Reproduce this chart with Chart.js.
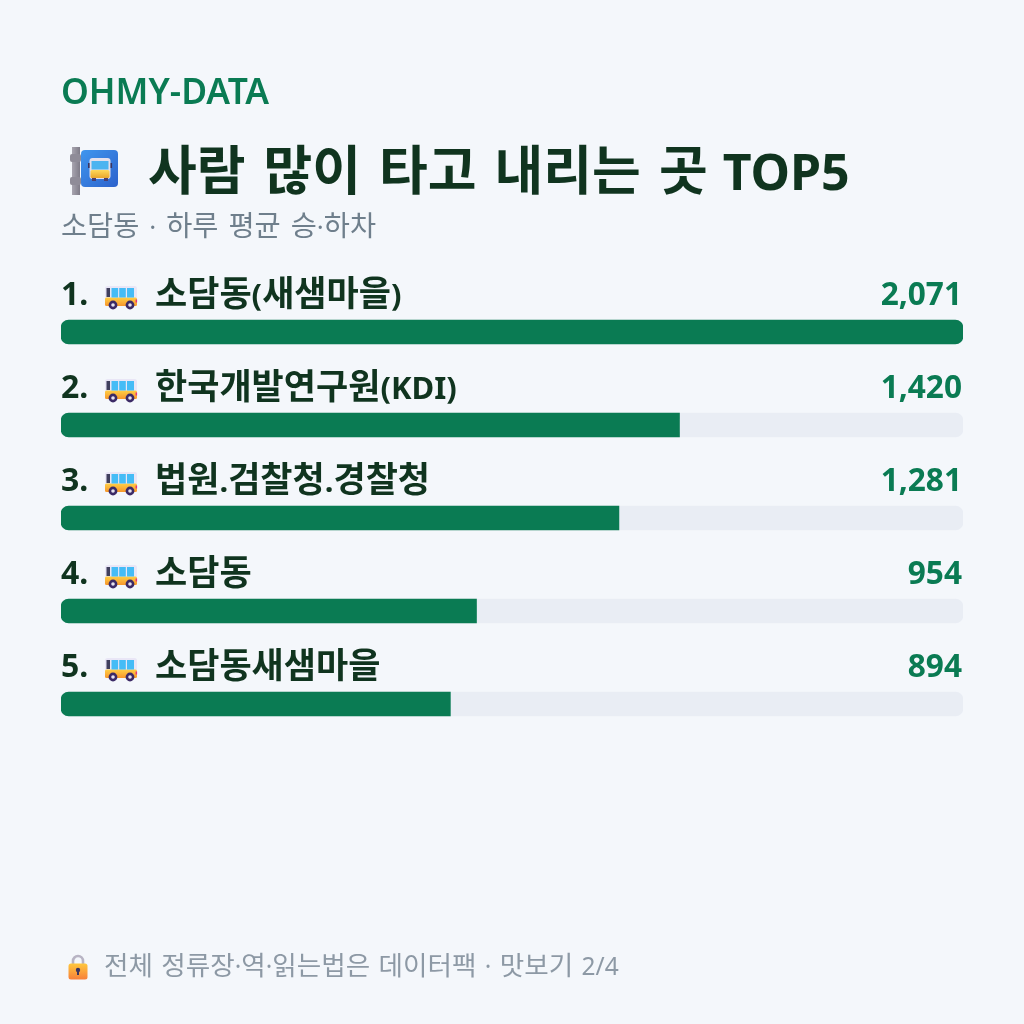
<!DOCTYPE html>
<html lang="ko">
<head>
<meta charset="utf-8">
<style>
html,body{margin:0;padding:0;background:#f4f7fb;}
#page{position:relative;width:1024px;height:1024px;overflow:hidden;font-family:"Noto Sans",sans-serif;}
#page canvas{position:absolute;left:0;top:0;}
.t{position:absolute;white-space:pre;line-height:1;}
.t .k{font-family:"Noto Sans CJK KR",sans-serif;}
#brand{left:61px;top:73px;font-size:35.4px;font-weight:600;color:#0a7b53;}
#title{left:148px;top:141px;font-size:50px;font-weight:700;color:#10341f;word-spacing:5px;}
#title .k{font-size:53px;}
#title .l{margin-left:-3px;}
#sub{left:61px;top:210px;font-size:26px;color:#6f7f8c;word-spacing:3.2px;}
#sub .k{font-size:28.4px;}
#foot{left:104px;top:951px;font-size:24.5px;color:#8d99a5;word-spacing:2px;}
#foot .k{font-size:26.6px;}
.row{font-size:32px;font-weight:700;color:#10341f;}
.row.name{font-size:31px;}
.row .k{font-size:35px;}
.val{font-size:31.6px;font-weight:700;color:#0a7b53;}
.ico{position:absolute;}
</style>
</head>
<body>
<div id="page">
<canvas id="c" width="1024" height="1024"></canvas>
<div class="t" id="brand"></div>
<div class="t" id="title"></div>
<div class="t" id="sub"></div>
<div class="t" id="foot"></div>
</div>
<script src="https://cdn.jsdelivr.net/npm/chart.js@4"></script>
<script>
const brandText = "OHMY-DATA";
const titleText = "사람 많이 타고 내리는 곳 TOP5";
const subText = "소담동 · 하루 평균 승·하차";
const footText = "전체 정류장·역·읽는법은 데이터팩 · 맛보기 2/4";
const stops = ["소담동(새샘마을)", "한국개발연구원(KDI)", "법원.검찰청.경찰청", "소담동", "소담동새샘마을"];
const riders = [2071, 1420, 1281, 954, 894];
const trackValues = riders.map(() => Math.max(...riders));

const green = "#0a7b53";
const track = "#e9edf4";

// Hangul runs get their own family and size so they sit with the Latin text.
function fill(el, text) {
  text.split(/([\uAC00-\uD7A3]+|[A-Z][A-Z0-9]+)/).forEach(part => {
    if (!part) return;
    const hangul = /[\uAC00-\uD7A3]/.test(part);
    if (hangul || /^[A-Z]/.test(part)) {
      const s = document.createElement("span");
      s.className = hangul ? "k" : "l";
      s.textContent = part;
      el.appendChild(s);
    } else {
      el.appendChild(document.createTextNode(part));
    }
  });
}
const page = document.getElementById("page");
document.getElementById("brand").textContent = brandText;
fill(document.getElementById("title"), titleText);
fill(document.getElementById("sub"), subText);
fill(document.getElementById("foot"), footText);

const busIcon = `<svg viewBox="0 0 34 24" width="34" height="24">
<defs><linearGradient id="bg" x1="0" y1="0" x2="0" y2="1"><stop offset="0" stop-color="#ffcf45"/><stop offset="1" stop-color="#f7962c"/></linearGradient></defs>
<rect x="1" y="0" width="32" height="20" rx="2.5" fill="#e9e6f6"/>
<rect x="1" y="11.5" width="32" height="8.5" rx="1.5" fill="url(#bg)"/>
<rect x="2.5" y="2" width="3.5" height="9" fill="#40405e"/>
<rect x="7.5" y="2" width="6.6" height="9.5" fill="#45bcf6"/>
<rect x="15.2" y="2" width="6.6" height="9.5" fill="#45bcf6"/>
<rect x="23" y="2" width="7" height="9.5" fill="#45bcf6"/>
<circle cx="9" cy="19" r="4.4" fill="#3b2a66"/><circle cx="9" cy="19" r="1.8" fill="#e6e3ef"/>
<circle cx="26" cy="19" r="4.4" fill="#3b2a66"/><circle cx="26" cy="19" r="1.8" fill="#e6e3ef"/>
<rect x="31.6" y="13.5" width="1.5" height="3" fill="#e8327c"/>
</svg>`;
const stopIcon = `<svg viewBox="0 0 50 48" width="50" height="48">
<defs><linearGradient id="sg" x1="0" y1="0" x2="1" y2="1"><stop offset="0" stop-color="#3f96ee"/><stop offset="1" stop-color="#2c62cc"/></linearGradient>
<linearGradient id="by" x1="0" y1="0" x2="0" y2="1"><stop offset="0" stop-color="#ffd95a"/><stop offset="1" stop-color="#e8a52c"/></linearGradient>
<linearGradient id="pl" x1="0" y1="0" x2="1" y2="0"><stop offset="0" stop-color="#a8a5b0"/><stop offset="1" stop-color="#7f7c88"/></linearGradient></defs>
<rect x="2" y="0" width="8" height="48" fill="url(#pl)"/>
<rect x="0" y="7" width="11" height="8" rx="2" fill="#8f8c98"/>
<rect x="0" y="30" width="11" height="8" rx="2" fill="#8f8c98"/>
<rect x="11" y="3" width="37" height="37" rx="4" fill="url(#sg)"/>
<rect x="19.5" y="11" width="21" height="21" rx="3" fill="#e4e0ec"/>
<rect x="21.5" y="14" width="17" height="8.5" fill="#4cb4f0"/>
<rect x="20.5" y="23" width="19" height="8" rx="1.5" fill="url(#by)"/>
<rect x="18" y="16" width="1.6" height="5" fill="#3b3560"/><rect x="40.5" y="16" width="1.6" height="5" fill="#3b3560"/>
<rect x="22" y="31" width="4" height="3" fill="#4a3f70"/><rect x="34" y="31" width="4" height="3" fill="#4a3f70"/>
</svg>`;
const lockIcon = `<svg viewBox="0 0 20 26" width="20" height="26">
<defs><linearGradient id="lk" x1="0" y1="0" x2="0" y2="1"><stop offset="0" stop-color="#ffc83d"/><stop offset="1" stop-color="#f77f3a"/></linearGradient></defs>
<path d="M5 11V7a5 5 0 0 1 10 0v4" fill="none" stroke="#b8b4c4" stroke-width="2.6"/>
<rect x="0.5" y="9.5" width="19" height="16" rx="2.5" fill="url(#lk)"/>
<circle cx="10" cy="16" r="2.2" fill="#3b3560"/><rect x="9" y="16" width="2" height="5" fill="#3b3560"/>
</svg>`;
function addIcon(svg, x, y) {
  const d = document.createElement("div");
  d.className = "ico";
  d.style.left = x + "px";
  d.style.top = y + "px";
  d.style.lineHeight = "0";
  d.innerHTML = svg;
  page.appendChild(d);
}
addIcon(stopIcon, 70, 147);
addIcon(lockIcon, 67.5, 954);

Chart.defaults.animation = false;
const chart = new Chart(document.getElementById("c"), {
  type: "bar",
  data: {
    labels: stops,
    datasets: [
      { data: riders, backgroundColor: green, order: 0, grouped: false, barThickness: 24,
        borderSkipped: false,
        borderRadius: ctx => ctx.raw === Math.max(...riders)
          ? 8 : { topLeft: 8, bottomLeft: 8, topRight: 0, bottomRight: 0 } },
      { data: trackValues, backgroundColor: track, order: 1, grouped: false, barThickness: 24,
        borderSkipped: false, borderRadius: 8 }
    ]
  },
  options: {
    indexAxis: "y",
    responsive: false,
    layout: { padding: { left: 61, right: 61, top: 285.5, bottom: 273.5 } },
    plugins: { legend: { display: false }, tooltip: { enabled: false } },
    scales: {
      x: { display: false, min: 0, max: Math.max(...riders) },
      y: { display: false }
    }
  }
});

// Row captions sit above each bar, placed from the category scale.
stops.forEach((name, i) => {
  const cy = chart.scales.y.getPixelForValue(i);
  const num = document.createElement("div");
  num.className = "t row";
  num.textContent = (i + 1) + ".";
  num.style.left = "61px";
  num.style.top = (cy - 55) + "px";
  page.appendChild(num);
  addIcon(busIcon, 104, cy - 46.5);
  const left = document.createElement("div");
  left.className = "t row name";
  fill(left, name);
  left.style.left = "155px";
  left.style.top = (cy - 59) + "px";
  page.appendChild(left);
  const right = document.createElement("div");
  right.className = "t val";
  right.textContent = riders[i].toLocaleString("en-US");
  right.style.right = "62px";
  right.style.top = (cy - 55) + "px";
  page.appendChild(right);
});
</script>
</body>
</html>
